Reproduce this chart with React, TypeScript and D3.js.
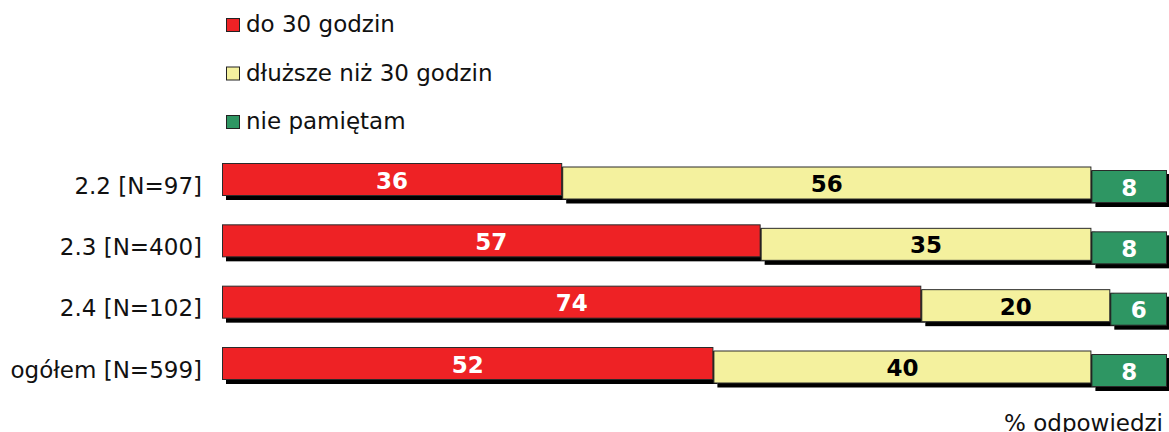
import React from "react";
import * as d3 from "d3";

const categories = ["2.2 [N=97]", "2.3 [N=400]", "2.4 [N=102]", "ogółem [N=599]"];
const seriesNames = ["do 30 godzin", "dłuższe niż 30 godzin", "nie pamiętam"];
const shortHours = [36, 57, 74, 52];
const longHours = [56, 35, 20, 40];
const dontRemember = [8, 8, 6, 8];
const seriesColors = ["#EE2225", "#F4F19E", "#2E9663"];
const labelColors = ["#ffffff", "#000000", "#ffffff"];
const axisTitle = "% odpowiedzi";

const W = 1169;
const H = 432;
const FONT = "Verdana, 'DejaVu Sans', sans-serif";
const FS = 23;

export default function App() {
  const series = [shortHours, longHours, dontRemember];
  const x = d3.scaleLinear().domain([0, 100]).range([222, 1167]);
  const y = d3.scalePoint<string>().domain(categories).range([163, 347]);
  const segH = 33;
  const stepDown = [0, 3.5, 7];
  const shadow = { dx: 4, dy: 4 };

  const rows = categories.map((cat, ci) => {
    const vals = series.map((s) => s[ci]);
    const stack = d3.cumsum(vals);
    return vals.map((v, si) => ({
      cat,
      si,
      v,
      x0: x(stack[si] - v),
      x1: x(stack[si]),
      top: (y(cat) as number) + stepDown[si],
    }));
  });

  return (
    <div>
      <style>{`body{margin:0}`}</style>
      <svg width={W} height={H} style={{ display: "block", background: "#fff" }}>
        {/* legend */}
        {seriesNames.map((name, i) => {
          const ly = 18 + i * 48.5;
          return (
            <g key={name}>
              <rect x={226.5} y={ly + 0.5} width={13} height={13} fill={seriesColors[i]} stroke="#222" strokeWidth={1} />
              <text x={246} y={ly + 14} fontFamily={FONT} fontSize={FS} fill="#111">
                {name}
              </text>
            </g>
          );
        })}

        {/* shadows */}
        {rows.map((segs, ci) => (
          <g key={"sh" + ci}>
            {segs.map((s) => (
              <rect
                key={s.si}
                x={s.x0 + shadow.dx}
                y={s.top + shadow.dy}
                width={s.x1 - s.x0}
                height={segH}
                fill="#000"
              />
            ))}
          </g>
        ))}

        {/* bars */}
        {rows.map((segs, ci) => (
          <g key={"b" + ci}>
            {segs.map((s) => (
              <rect
                key={s.si}
                x={s.x0 + 0.5}
                y={s.top + 0.5}
                width={s.x1 - s.x0 - 1}
                height={segH - 1}
                fill={seriesColors[s.si]}
                stroke="#2a2a2a"
                strokeWidth={1}
              />
            ))}
            {segs.map((s) => (
              <text
                key={"t" + s.si}
                x={(s.x0 + s.x1) / 2}
                y={s.top + segH / 2 + 9}
                textAnchor="middle"
                fontFamily={FONT}
                fontWeight="bold"
                fontSize={FS}
                fill={labelColors[s.si]}
              >
                {s.v}
              </text>
            ))}
          </g>
        ))}

        {/* category labels */}
        {categories.map((cat) => (
          <text
            key={cat}
            x={202}
            y={(y(cat) as number) + 30.5}
            textAnchor="end"
            fontFamily={FONT}
            fontSize={FS}
            fill="#111"
          >
            {cat}
          </text>
        ))}

        <text x={1163} y={431} textAnchor="end" fontFamily={FONT} fontSize={FS} fill="#111">
          {axisTitle}
        </text>
      </svg>
    </div>
  );
}
